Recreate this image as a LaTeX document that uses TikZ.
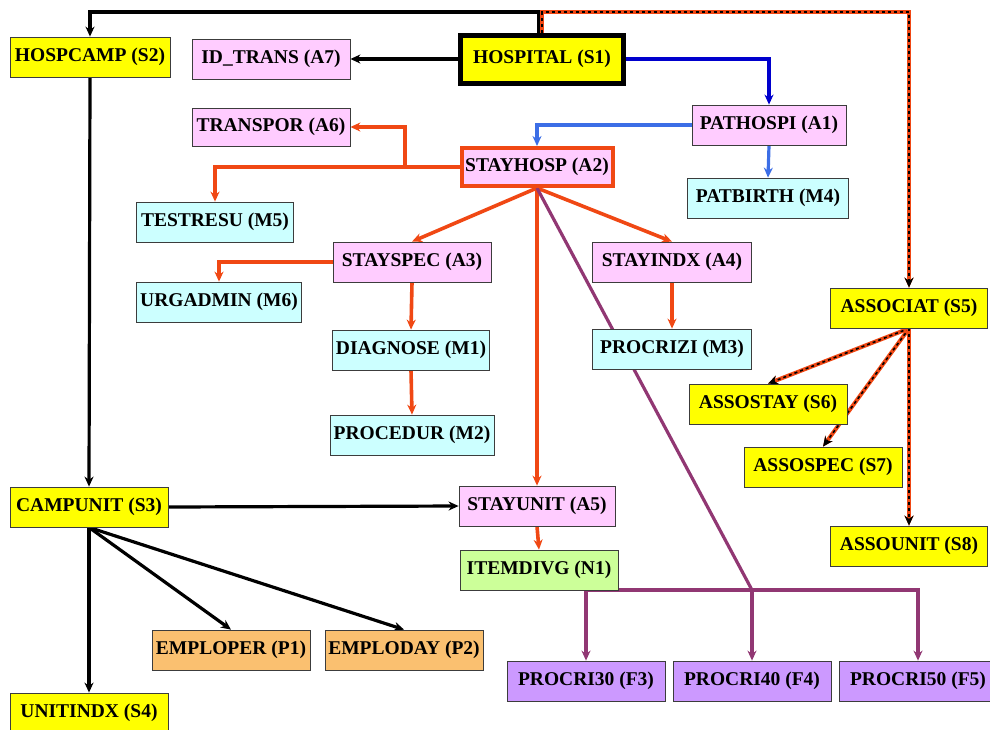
\documentclass[tikz,border=0pt]{standalone}
\usepackage{fontspec}
\setmainfont{Liberation Serif}
\usetikzlibrary{arrows.meta,backgrounds}

\definecolor{sfill}{RGB}{255,255,0}
\definecolor{afill}{RGB}{255,204,255}
\definecolor{mfill}{RGB}{204,255,255}
\definecolor{nfill}{RGB}{204,255,153}
\definecolor{pfill}{RGB}{250,192,112}
\definecolor{ffill}{RGB}{204,153,255}
\definecolor{redln}{RGB}{240,72,20}
\definecolor{blueln}{RGB}{0,0,205}
\definecolor{lblueln}{RGB}{60,110,230}
\definecolor{purpln}{RGB}{145,55,115}

\tikzset{
  table/.style={draw={rgb,255:red,60;green,60;blue,60}, line width=0.8pt,
    minimum width=158pt, minimum height=40pt, inner xsep=1pt, inner ysep=2pt,
    font=\fontsize{19.5}{21}\selectfont\bfseries},
  stab/.style={table, fill=sfill},
  atab/.style={table, fill=afill},
  mtab/.style={table, fill=mfill},
  ntab/.style={table, fill=nfill},
  ptab/.style={table, fill=pfill},
  ftab/.style={table, fill=ffill},
  blk/.style={draw=black, line width=3.2pt, ->},
  redarr/.style={draw=redln, line width=3.6pt, ->},
  blu/.style={draw=blueln, line width=3.2pt, ->},
  lblu/.style={draw=lblueln, line width=3.2pt, ->},
  purp/.style={draw=purpln, line width=3.2pt},
  assoc/.style={draw=redln, line width=4pt, ->,
    postaction={draw=black, line width=1.6pt, dash pattern=on 3pt off 3pt}},
  >={Stealth[length=10pt,width=9pt]}
}

\begin{document}
\begin{tikzpicture}[x=1pt,y=-1pt]
  \useasboundingbox (0,0) rectangle (990,729);

  % tables
  \node[stab, line width=5pt, draw=black, minimum width=163pt, minimum height=48pt] (s1) at (542,59) {HOSPITAL (S1)};
  \node[stab, minimum width=160pt] (s2) at (90,57) {HOSPCAMP (S2)};
  \node[atab] (a7) at (271,59) {ID\_TRANS (A7)};
  \node[atab, minimum width=154pt] (a1) at (769,125) {PATHOSPI (A1)};
  \node[atab, line width=4pt, draw=redln, minimum width=151pt, minimum height=38pt] (a2) at (537,167) {STAYHOSP (A2)};
  \node[mtab, minimum width=161pt] (m4) at (768,198) {PATBIRTH (M4)};
  \node[atab, minimum height=38pt] (a6) at (271,127) {TRANSPOR (A6)};
  \node[mtab, minimum width=157pt] (m5) at (215,222) {TESTRESU (M5)};
  \node[atab] (a3) at (412,262) {STAYSPEC (A3)};
  \node[mtab, minimum width=165pt] (m6) at (219,302) {URGADMIN (M6)};
  \node[atab, minimum width=159pt] (a4) at (672,262) {STAYINDX (A4)};
  \node[mtab, minimum width=157pt] (m1) at (411,350) {DIAGNOSE (M1)};
  \node[mtab, minimum width=159pt] (m3) at (672,349) {PROCRIZI (M3)};
  \node[mtab, minimum width=164pt] (m2) at (412,435) {PROCEDUR (M2)};
  \node[stab, minimum width=157pt] (s5) at (909,308) {ASSOCIAT (S5)};
  \node[stab] (s6) at (768,404) {ASSOSTAY (S6)};
  \node[stab] (s7) at (823,467) {ASSOSPEC (S7)};
  \node[stab, minimum width=157pt] (s8) at (909,546) {ASSOUNIT (S8)};
  \node[stab] (s3) at (89,507) {CAMPUNIT (S3)};
  \node[atab, minimum width=156pt] (a5) at (537,506) {STAYUNIT (A5)};
  \node[ntab] (n1) at (539,570) {ITEMDIVG (N1)};
  \node[ptab] (p1) at (231,650) {EMPLOPER (P1)};
  \node[ptab] (p2) at (404,650) {EMPLODAY (P2)};
  \node[stab] (s4) at (89,713) {UNITINDX (S4)};
  \node[ftab] (f3) at (586,681) {PROCRI30 (F3)};
  \node[ftab] (f4) at (752,681) {PROCRI40 (F4)};
  \node[ftab] (f5) at (918,681) {PROCRI50 (F5)};

  \coordinate (top) at (542,12);
  \coordinate (brk) at (405,167);
  \coordinate (fj) at (752,590);

  \begin{scope}[on background layer]
    % black links
    \draw[blk] ([xshift=-3pt]s1.north) -- ([xshift=-3pt]top) -| (s2.north);
    \draw[blk] (s1.west) -- (a7.east);
    \draw[blk] (s2.south) -- (s3.north);
    \draw[blk] (s3.east) -- (a5.west);
    \draw[blk] (s3.south) -- (s4.north);
    \draw[blk] (s3.south) -- (p1.north);
    \draw[blk] (s3.south) -- (p2.north);
    % associations
    \draw[assoc] (s1.north) -- (top) -| (s5.north);
    \draw[assoc] (s5.south) -- (s6.north);
    \draw[assoc] (s5.south) -- (s7.north);
    \draw[assoc] (s5.south) -- (s8.north);
    % patient
    \draw[blu] (s1.east) -| (a1.north);
    \draw[lblu] (a1.west) -| (a2.north);
    \draw[lblu] (a1.south) -- (m4.north);
    % stays
    \draw[redarr] (a2.west) -| (m5.north);
    \draw[redarr] (brk) |- (a6.east);
    \draw[redarr] (a2.south) -- (a3.north);
    \draw[redarr] (a2.south) -- (a4.north);
    \draw[redarr] (a2.south) -- (a5.north);
    \draw[redarr] (a3.west) -| (m6.north);
    \draw[redarr] (a3.south) -- (m1.north);
    \draw[redarr] (m1.south) -- (m2.north);
    \draw[redarr] (a4.south) -- (m3.north);
    \draw[redarr] (a5.south) -- (n1.north);
    % procri
    \draw[purp] (a2.south) -- (fj);
    \draw[purp, ->] (fj) -| (f3.north);
    \draw[purp, ->] (fj) -- (f4.north);
    \draw[purp, ->] (fj) -| (f5.north);
  \end{scope}
\end{tikzpicture}
\end{document}
